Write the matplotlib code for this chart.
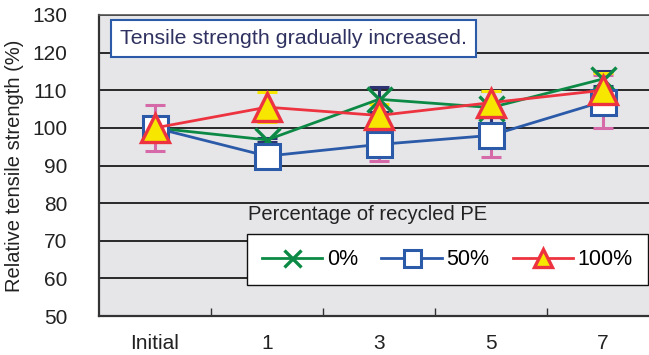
import numpy as np
import matplotlib.pyplot as plt

labels = ['Initial', '1', '3', '5', '7']
pe0 = [100, 96.8, 107.6, 105.4, 113.0]
pe0_err = [1.0, 0.5, 3.3, 4.4, 2.0]
pe50 = [100, 92.5, 95.6, 98.0, 107.0]
pe50_err = [6.1, 3.0, 4.4, 5.8, 7.0]
pe100 = [100, 105.5, 103.3, 106.7, 110.0]
pe100_err = [2.0, 4.0, 3.0, 3.0, 4.6]

green = '#0c8a45'
blue = '#2b5aa8'
red = '#ee3340'
yellow = '#f7e600'
pink = '#d66aa8'
navy = '#2d3370'

plt.rcParams['font.family'] = ['Liberation Sans', 'DejaVu Sans']

fig = plt.figure(figsize=(6.49, 3.55), dpi=100)
ax = fig.add_axes([99/649, 1-316/355, 560/649, 301/355])
ax.set_facecolor('#e6e6e9')

x = np.arange(len(labels))

# error bars first
ax.errorbar(x, pe50, yerr=pe50_err, fmt='none', ecolor=pink, elinewidth=2.2, capsize=7, capthick=2.2, zorder=2)
ax.errorbar(x, pe0, yerr=pe0_err, fmt='none', ecolor=navy, elinewidth=2.2, capsize=7, capthick=2.2, zorder=2)
ax.errorbar(x, pe100, yerr=pe100_err, fmt='none', ecolor=yellow, elinewidth=2.2, capsize=7, capthick=2.2, zorder=2)

l0, = ax.plot(x, pe0, color=green, lw=2, marker='x', ms=18, mew=2.4, zorder=3, label='0%')
l50, = ax.plot(x, pe50, color=blue, lw=2, marker='s', ms=18, mfc='white', mec=blue, mew=2.2, zorder=4, label='50%')
l100, = ax.plot(x, pe100, color=red, lw=2, marker='^', ms=20, mfc=yellow, mec=red, mew=2.4, zorder=5, label='100%')

ax.set_xlim(-0.5, 4.5)
ax.set_ylim(50, 130)
ax.set_yticks(np.arange(50, 131, 10))
ax.yaxis.grid(True, color='#1a1a1a', lw=1.3)
ax.set_axisbelow(True)
ax.tick_params(axis='y', length=0, pad=23, labelsize=15, labelcolor='#222222')

ax.set_xticks(np.arange(0.5, 4, 1))
ax.set_xticklabels([])
ax.tick_params(axis='x', direction='in', length=6, width=1, color='#333333')
for i, lab in enumerate(labels):
    ax.text(i, 42.8, lab, ha='center', va='center', fontsize=15, color='#222222')

for s in ['left', 'bottom']:
    ax.spines[s].set_color('#333333')
    ax.spines[s].set_linewidth(1.6)
ax.spines['top'].set_color('#555555')
ax.spines['top'].set_linewidth(1.2)
ax.spines['right'].set_visible(False)

ax.set_ylabel('Relative tensile strength (%)', fontsize=14.5, color='#222222', labelpad=6)

ax.text(0.038, 0.953, 'Tensile strength gradually increased.', transform=ax.transAxes,
        fontsize=15.4, color='#2f3160', va='top', ha='left',
        bbox=dict(boxstyle='square,pad=0.42', fc='white', ec=blue, lw=1.5))

fig.text(248/649, 1-214/355, 'Percentage of recycled PE', fontsize=14.5, color='#222222', va='center')
leg = fig.legend(handles=[l0, l50, l100], loc='upper left', bbox_to_anchor=(247/649, 1-234/355),
                 ncol=3, fontsize=15.5, frameon=True, fancybox=False, handlelength=2.8,
                 columnspacing=1.1, handletextpad=0.2, borderpad=0.7, borderaxespad=0,
                 markerscale=0.68)
leg.get_frame().set_edgecolor('#111111')
leg.get_frame().set_linewidth(1.0)
leg.get_frame().set_alpha(1)

fig.savefig('out.png', dpi=100)
